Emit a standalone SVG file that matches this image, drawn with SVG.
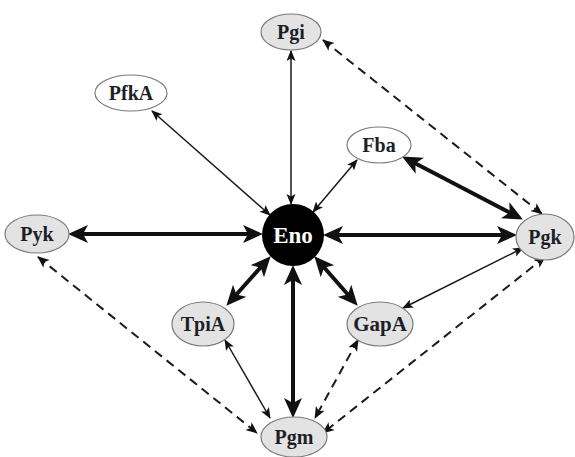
<svg xmlns="http://www.w3.org/2000/svg" width="575" height="457" viewBox="0 0 575 457">
<style>
.n{fill:#e3e3e3;stroke:#7a7a7a;stroke-width:1.2}
.w{fill:#ffffff;stroke:#7a7a7a;stroke-width:1.2}
.t{font-family:"Liberation Serif","Times New Roman",serif;font-weight:bold;font-size:20px;fill:#1e1e28;text-anchor:middle}
.thin{stroke:#1a1a1a;stroke-width:1.5;fill:none;marker-start:url(#ah);marker-end:url(#ah)}
.thick{stroke:#111;stroke-width:4;fill:none;marker-start:url(#AH);marker-end:url(#AH)}
.dash{stroke:#1a1a1a;stroke-width:2;stroke-dasharray:9,6;fill:none;marker-start:url(#dh);marker-end:url(#dh)}
</style>
<defs>
<marker id="ah" markerUnits="userSpaceOnUse" markerWidth="13" markerHeight="11" refX="10" refY="4.5" orient="auto-start-reverse" viewBox="0 0 13 11"><path d="M0,0 L11,4.5 L0,9 L2.5,4.5 Z" fill="#111"/></marker>
<marker id="dh" markerUnits="userSpaceOnUse" markerWidth="14" markerHeight="12" refX="11" refY="5" orient="auto-start-reverse" viewBox="0 0 14 12"><path d="M0,0 L12,5 L0,10 L3,5 Z" fill="#111"/></marker>
<marker id="AH" markerUnits="userSpaceOnUse" markerWidth="22" markerHeight="20" refX="15" refY="9" orient="auto-start-reverse" viewBox="0 0 22 20"><path d="M0,0 L20,9 L0,18 L5,9 Z" fill="#111"/></marker>
</defs>
<g id="connectors">
<path class="dash" d="M323,40 L542,214"/>
<path class="dash" d="M38,257 L257,433"/>
<path class="dash" d="M545,257 L323,433"/>
<path class="dash" d="M358,340 L315,418"/>
<path class="thin" d="M291,51 L291,204"/>
<path class="thin" d="M152,111 L270,215"/>
<path class="thin" d="M357,160 L313,212"/>
<path class="thin" d="M523,248 L403,308"/>
<path class="thin" d="M225,340 L270,418"/>
<path class="thick" d="M73,234 L258,234"/>
<path class="thick" d="M328,235 L512,235"/>
<path class="thick" d="M293,270 L293,413"/>
<path class="thick" d="M267.3,260 L229.7,302"/>
<path class="thick" d="M317.6,260 L354.4,302"/>
<path class="thick" d="M406.5,158.8 L518.5,217.2"/>
</g>
<g id="Pgi"><ellipse class="n" cx="291" cy="32" rx="30" ry="18"/><text class="t" x="291" y="39">Pgi</text></g>
<g id="PfkA"><ellipse class="w" cx="131" cy="93" rx="36" ry="18"/><text class="t" x="131" y="100">PfkA</text></g>
<g id="Fba"><ellipse class="w" cx="379" cy="145" rx="32" ry="18"/><text class="t" x="379" y="152">Fba</text></g>
<g id="Pyk"><ellipse class="n" cx="37" cy="234" rx="32" ry="19"/><text class="t" x="37" y="241">Pyk</text></g>
<g id="Eno"><circle cx="293" cy="235" r="31" fill="#000"/><text class="t" x="293" y="243" style="fill:#fff;font-size:23px">Eno</text></g>
<g id="Pgk"><ellipse class="n" cx="545" cy="237" rx="29" ry="23"/><text class="t" x="545" y="244">Pgk</text></g>
<g id="TpiA"><ellipse class="n" cx="203" cy="324" rx="31" ry="22"/><text class="t" x="203" y="331">TpiA</text></g>
<g id="GapA"><ellipse class="n" cx="380" cy="324" rx="33" ry="22"/><text class="t" x="380" y="331" style="font-size:21px">GapA</text></g>
<g id="Pgm"><ellipse class="n" cx="294" cy="437" rx="33" ry="20"/><text class="t" x="294" y="444">Pgm</text></g>
</svg>
